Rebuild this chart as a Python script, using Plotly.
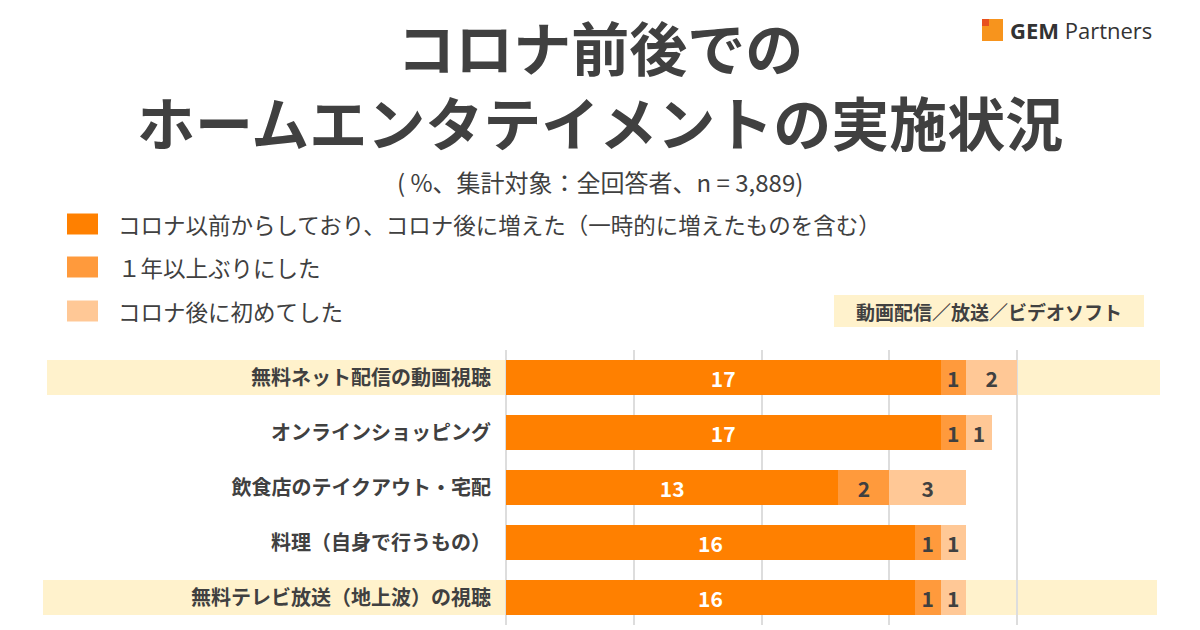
import plotly.graph_objects as go

# ---- data ----
categories = ["無料ネット配信の動画視聴", "オンラインショッピング", "飲食店のテイクアウト・宅配",
              "料理（自身で行うもの）", "無料テレビ放送（地上波）の視聴"]
series_names = ["コロナ以前からしており、コロナ後に増えた（一時的に増えたものを含む）",
                "１年以上ぶりにした", "コロナ後に初めてした"]
s_increased = [17, 17, 13, 16, 16]
s_after_year = [1, 1, 2, 1, 1]
s_first_time = [2, 1, 3, 1, 1]
highlight_rows = [0, 4]
section_label = "動画配信／放送／ビデオソフト"
title_lines = ["コロナ前後での", "ホームエンタテイメントの実施状況"]
subtitle = "( %、集計対象：全回答者、n = 3,889)"

# ---- style ----
W, H = 1200, 630
ML, MR, MT, MB = 506, 55, 350, 5
PW, PH = W - ML - MR, H - MT - MB
FONT = "Noto Sans CJK JP"
DARK = "#404040"
colors = ["#FF8000", "#FF9A3C", "#FFC896"]
text_colors = ["white", DARK, DARK]
band_color = "#FFF2CC"
band_x = {0: (47, 1160), 4: (43, 1157)}
bar_w = 0.64


def px(x):
    return (x - ML) / PW


def py(y):
    return (H - MB - y) / PH


fig = go.Figure()
for name, vals, c, tc in zip(series_names, [s_increased, s_after_year, s_first_time], colors, text_colors):
    fig.add_trace(go.Bar(
        y=categories, x=vals, orientation="h", name=name,
        marker=dict(color=c, line=dict(width=0)),
        width=bar_w,
        text=[f"<b>{v}</b>" for v in vals], textposition="inside",
        insidetextanchor="middle", textangle=0,
        textfont=dict(family=FONT, size=21, color=tc),
        showlegend=False, hoverinfo="x+y",
    ))

shapes = []
for r in highlight_rows:
    x0, x1 = band_x[r]
    shapes.append(dict(type="rect", xref="paper", yref="y", layer="below",
                       x0=px(x0), x1=px(x1), y0=r - bar_w / 2, y1=r + bar_w / 2,
                       fillcolor=band_color, line=dict(width=0)))

annotations = []
# legend
leg_y = [224, 267, 311]
for name, c, yy in zip(series_names, colors, leg_y):
    shapes.append(dict(type="rect", xref="paper", yref="paper",
                       x0=px(67), x1=px(98), y0=py(yy + 10.5), y1=py(yy - 10.5),
                       fillcolor=c, line=dict(width=0)))
    annotations.append(dict(xref="paper", yref="paper", x=px(116), y=py(yy),
                            xanchor="left", yanchor="middle", showarrow=False,
                            text=name, font=dict(family=FONT, size=22.5, color=DARK)))

# section label box
shapes.append(dict(type="rect", xref="paper", yref="paper",
                   x0=px(834), x1=px(1144), y0=py(327), y1=py(295),
                   fillcolor=band_color, line=dict(width=0)))
annotations.append(dict(xref="paper", yref="paper", x=px(989), y=py(311),
                        xanchor="center", yanchor="middle", showarrow=False,
                        text=f"<b>{section_label}</b>", font=dict(family=FONT, size=19, color=DARK)))

# title (two lines in one text)
annotations.append(dict(xref="paper", yref="paper", x=px(600), y=py(83),
                        xanchor="center", yanchor="middle", showarrow=False, align="center",
                        text="<br>".join(f"<b>{t}</b>" for t in title_lines),
                        font=dict(family=FONT, size=58, color=DARK)))
annotations.append(dict(xref="paper", yref="paper", x=px(600), y=py(181),
                        xanchor="center", yanchor="middle", showarrow=False,
                        text=subtitle, font=dict(family=FONT, size=24, color=DARK)))

# logo
shapes.append(dict(type="rect", xref="paper", yref="paper",
                   x0=px(982), x1=px(1003), y0=py(41), y1=py(19),
                   fillcolor="#F7941D", line=dict(width=0)))
shapes.append(dict(type="rect", xref="paper", yref="paper",
                   x0=px(982), x1=px(989), y0=py(26), y1=py(19),
                   fillcolor="#E8501E", line=dict(width=0)))
annotations.append(dict(xref="paper", yref="paper", x=px(1008), y=py(30),
                        xanchor="left", yanchor="middle", showarrow=False,
                        text="<b>GEM</b> Partners",
                        font=dict(family="Open Sans", size=22, color="#333333")))

fig.update_layout(
    width=W, height=H,
    margin=dict(l=ML, r=MR, t=MT, b=MB, autoexpand=False),
    barmode="stack",
    paper_bgcolor="white", plot_bgcolor="white",
    shapes=shapes, annotations=annotations,
    uniformtext=dict(minsize=21, mode="show"),
    xaxis=dict(range=[0, 25], dtick=5, showgrid=True, gridcolor="#DDDDDD", gridwidth=1.5,
               zeroline=True, zerolinecolor="#DDDDDD", zerolinewidth=1.5,
               showticklabels=False, showline=False, fixedrange=True),
    yaxis=dict(categoryorder="array", categoryarray=categories,
               range=[len(categories) - 0.5, -0.5],
               tickmode="array", tickvals=categories,
               ticktext=[f"<b>{c}</b>" for c in categories],
               tickfont=dict(family=FONT, size=20, color=DARK),
               ticks="", ticklabelstandoff=14, showgrid=False, showline=False, fixedrange=True),
)

fig.write_html("out.html", config={"displayModeBar": False},
               post_script="document.body.style.margin='0';document.body.style.overflow='hidden';")
